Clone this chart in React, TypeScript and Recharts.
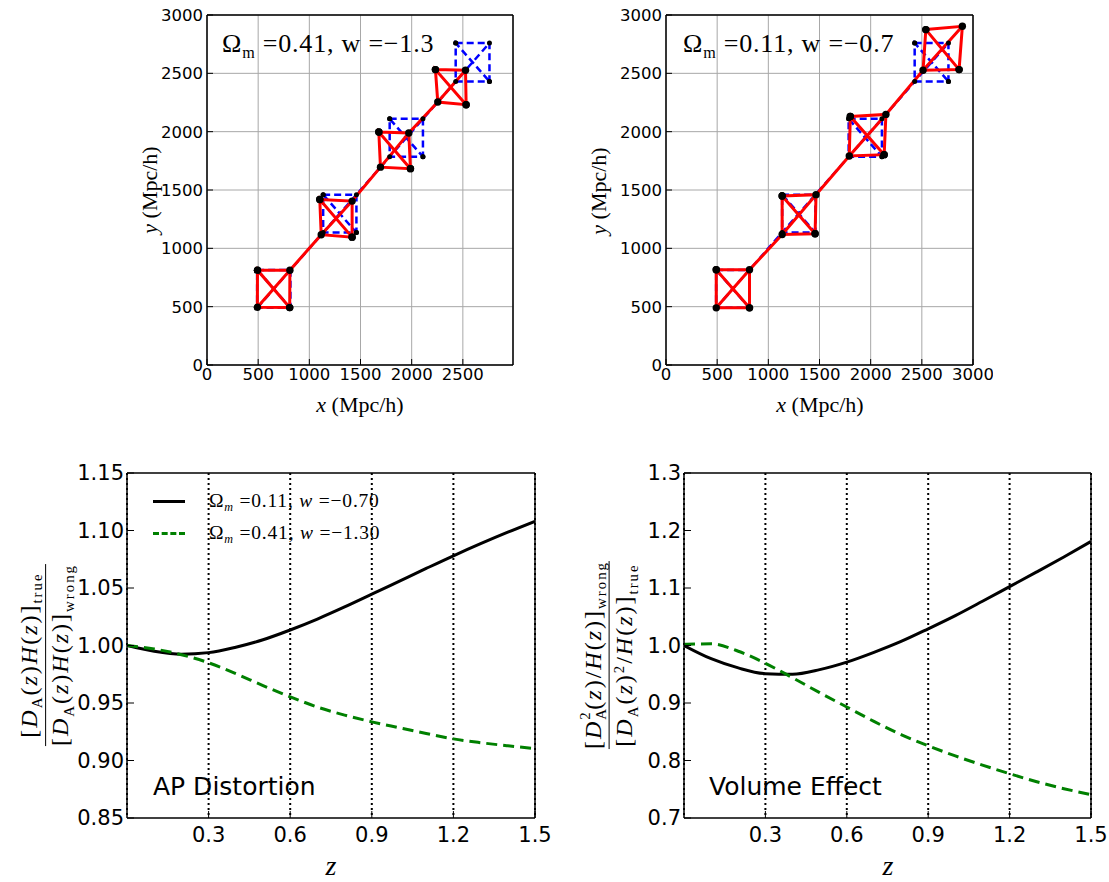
import React from "react";
import { ComposedChart, Line, XAxis, YAxis, CartesianGrid } from "recharts";

const SANS = "'DejaVu Sans', sans-serif";
const SERIF = "'Liberation Serif', 'Times New Roman', serif";

// ---------- top panels: comoving grid, Mpc/h ----------
const xTicksLeft = [0, 500, 1000, 1500, 2000, 2500];
const xTicksRight = [0, 500, 1000, 1500, 2000, 2500, 3000];
const yTicksGrid = [0, 500, 1000, 1500, 2000, 2500, 3000];

// each cell: top-left, top-right, bottom-right, bottom-left
const trueCells = [
  [[490, 815], [815, 815], [815, 490], [490, 490]],
  [[1135, 1460], [1460, 1460], [1460, 1135], [1135, 1135]],
  [[1785, 2110], [2110, 2110], [2110, 1785], [1785, 1785]],
  [[2430, 2760], [2760, 2760], [2760, 2430], [2430, 2430]],
];
const cellsOm041 = [
  [[493, 813], [810, 812], [808, 492], [492, 495]],
  [[1102, 1419], [1418, 1405], [1418, 1096], [1116, 1117]],
  [[1679, 1997], [1972, 1988], [1988, 1683], [1695, 1696]],
  [[2232, 2532], [2526, 2526], [2532, 2231], [2255, 2254]],
];
const cellsOm011 = [
  [[491, 816], [816, 816], [816, 490], [491, 490]],
  [[1135, 1448], [1466, 1460], [1457, 1125], [1135, 1119]],
  [[1801, 2131], [2149, 2148], [2132, 1803], [1791, 1791]],
  [[2539, 2875], [2896, 2903], [2864, 2532], [2512, 2526]],
];

// ---------- bottom panels ----------
const zValues = [0, 0.1, 0.2, 0.3, 0.4, 0.5, 0.6, 0.7, 0.8, 0.9, 1.0, 1.1, 1.2, 1.3, 1.4, 1.5];
const apOm011 = [1.0, 0.995, 0.9925, 0.9938, 0.9985, 1.005, 1.0135, 1.023, 1.0335, 1.0446, 1.0558, 1.067, 1.078, 1.0885, 1.0985, 1.108];
const apOm041 = [1.0, 0.997, 0.992, 0.985, 0.9755, 0.9652, 0.9554, 0.9465, 0.9395, 0.9336, 0.9285, 0.9235, 0.9188, 0.9155, 0.9128, 0.9104];
const volOm011 = [1.0, 0.977, 0.961, 0.951, 0.95, 0.958, 0.971, 0.988, 1.007, 1.029, 1.052, 1.077, 1.1025, 1.128, 1.154, 1.181];
const volOm041 = [1.002, 1.003, 0.99, 0.969, 0.944, 0.918, 0.893, 0.868, 0.845, 0.8255, 0.808, 0.792, 0.777, 0.763, 0.751, 0.7407];
const zTicks = [0.3, 0.6, 0.9, 1.2, 1.5];
const apTicks = [0.85, 0.9, 0.95, 1.0, 1.05, 1.1, 1.15];
const volTicks = [0.7, 0.8, 0.9, 1.0, 1.1, 1.2, 1.3];

const toPts = (arr: number[][]) => arr.map(([x, y]) => ({ x, y }));
const cellPath = (c: number[][]) => toPts([c[0], c[1], c[2], c[3], c[0], c[2]]);
const chainPath = (cells: number[][][]) => toPts(cells.flatMap((c) => [c[3], c[1]]));

const blackDot = (r: number) => (p: any) => (
  <circle key={`d${p.index}`} cx={p.cx} cy={p.cy} r={r} fill="#000" stroke="none" />
);

const frame = { stroke: "#000", strokeWidth: 1.5 };

function Sub({ children }: { children: React.ReactNode }) {
  return <span style={{ fontSize: "0.62em", position: "relative", top: "0.35em" }}>{children}</span>;
}
function Sup({ children }: { children: React.ReactNode }) {
  return <span style={{ fontSize: "0.62em", position: "relative", top: "-0.55em" }}>{children}</span>;
}
function SupSub({ sup, sub }: { sup: string; sub: string }) {
  return (
    <span style={{ position: "relative", display: "inline-block", width: "0.42em", height: "1em" }}>
      <span style={{ position: "absolute", left: 0, top: "0.08em", fontSize: "0.62em", lineHeight: 1 }}>{sup}</span>
      <span style={{ position: "absolute", left: 0, top: "1.13em", fontSize: "0.62em", lineHeight: 1 }}>{sub}</span>
    </span>
  );
}

function GridPanel({ left, xMax, xTicks, cells }: { left: number; xMax: number; xTicks: number[]; cells: number[][][] }) {
  const tickStyle = { fill: "#000", fontSize: 16.5, fontFamily: SANS };
  return (
    <div style={{ position: "absolute", left, top: 0 }}>
      <ComposedChart width={433} height={415} margin={{ top: 0, right: 0, bottom: 0, left: 0 }}>
        <CartesianGrid stroke="#a8a8a8" strokeWidth={1} />
        <XAxis type="number" dataKey="x" domain={[0, xMax]} ticks={xTicks} interval={0} allowDataOverflow height={50}
          tickSize={-6} tickMargin={9} tick={tickStyle} axisLine={frame} tickLine={{ stroke: "#000" }} />
        <XAxis xAxisId="top" orientation="top" type="number" dataKey="x" domain={[0, xMax]} ticks={xTicks} interval={0}
          allowDataOverflow height={15} tickSize={-6} tick={false} axisLine={frame} tickLine={{ stroke: "#000" }} />
        <YAxis type="number" dataKey="y" domain={[0, 3000]} ticks={yTicksGrid} interval={0} allowDataOverflow width={left === 100 ? 107 : 106}
          tickSize={-6} tickMargin={10} tick={tickStyle} axisLine={frame} tickLine={{ stroke: "#000" }} />
        <YAxis yAxisId="right" orientation="right" type="number" dataKey="y" domain={[0, 3000]} ticks={yTicksGrid} interval={0}
          allowDataOverflow width={20} tickSize={-6} tick={false} axisLine={frame} tickLine={{ stroke: "#000" }} />
        <Line data={chainPath(trueCells)} dataKey="y" type="linear" stroke="#0000ff" strokeWidth={2.5} strokeDasharray="7 4"
          dot={false} activeDot={false} isAnimationActive={false} />
        {trueCells.map((c, i) => (
          <Line key={`t${i}`} data={cellPath(c)} dataKey="y" type="linear" stroke="#0000ff" strokeWidth={2.5}
            strokeDasharray="7 4" dot={blackDot(2.5)} activeDot={false} isAnimationActive={false} />
        ))}
        <Line data={chainPath(cells)} dataKey="y" type="linear" stroke="#ff0000" strokeWidth={3}
          dot={false} activeDot={false} isAnimationActive={false} />
        {cells.map((c, i) => (
          <Line key={`c${i}`} data={cellPath(c)} dataKey="y" type="linear" stroke="#ff0000" strokeWidth={3}
            dot={blackDot(3.7)} activeDot={false} isAnimationActive={false} />
        ))}
      </ComposedChart>
    </div>
  );
}

function RatioPanel({ left, yWidth, plotWidth, a, b, domain, ticks, digits }: {
  left: number; yWidth: number; plotWidth: number; a: number[]; b: number[];
  domain: [number, number]; ticks: number[]; digits: number;
}) {
  const rows = zValues.map((z, i) => ({ z, a: a[i], b: b[i] }));
  const tickStyle = { fill: "#000", fontSize: 21, fontFamily: SANS };
  return (
    <div style={{ position: "absolute", left, top: 440 }}>
      <ComposedChart width={yWidth + plotWidth + 10 + 20} height={442} data={rows} margin={{ top: 0, right: 20, bottom: 0, left: 0 }}>
        <CartesianGrid horizontal={false} stroke="#000" strokeWidth={2} strokeDasharray="2 3" />
        <XAxis type="number" dataKey="z" domain={[0, 1.5]} ticks={zTicks} interval={0} allowDataOverflow height={64}
          tickSize={-7} tickMargin={16} tick={tickStyle} axisLine={frame} tickLine={{ stroke: "#000" }} />
        <XAxis xAxisId="top" orientation="top" type="number" dataKey="z" domain={[0, 1.5]} ticks={zTicks} interval={0}
          allowDataOverflow height={33} tickSize={-7} tick={false} axisLine={frame} tickLine={{ stroke: "#000" }} />
        <YAxis type="number" domain={domain} ticks={ticks} interval={0} allowDataOverflow width={yWidth}
          tickSize={-7} tickMargin={10} tick={tickStyle} tickFormatter={(v: number) => v.toFixed(digits)}
          axisLine={frame} tickLine={{ stroke: "#000" }} />
        <YAxis yAxisId="right" orientation="right" type="number" domain={domain} ticks={ticks} interval={0}
          allowDataOverflow width={10} tickSize={-7} tick={false} axisLine={frame} tickLine={{ stroke: "#000" }} />
        <Line dataKey="a" type="monotone" stroke="#000" strokeWidth={3} dot={false} activeDot={false} isAnimationActive={false} />
        <Line dataKey="b" type="monotone" stroke="#008000" strokeWidth={3} strokeDasharray="11 6" dot={false}
          activeDot={false} isAnimationActive={false} />
      </ComposedChart>
    </div>
  );
}

const abs = (left: number, top: number, extra: React.CSSProperties = {}): React.CSSProperties => ({
  position: "absolute", left, top, whiteSpace: "nowrap", lineHeight: 1, ...extra,
});

function Frac({ cx, cy, num, den }: { cx: number; cy: number; num: React.ReactNode; den: React.ReactNode }) {
  return (
    <div style={{
      position: "absolute", left: cx, top: cy, transform: "translate(-50%, -50%) rotate(-90deg)",
      display: "flex", flexDirection: "column", alignItems: "center", fontFamily: SERIF, fontSize: 24,
      letterSpacing: 2, whiteSpace: "nowrap", lineHeight: 1.1,
    }}>
      <div>{num}</div>
      <div style={{ alignSelf: "stretch", borderTop: "1.5px solid #000", margin: "3px 0 1px" }} />
      <div>{den}</div>
    </div>
  );
}

export default function App() {
  return (
    <div style={{ position: "absolute", left: 0, top: 0, width: 1109, height: 882, background: "#fff", overflow: "hidden" }}>
      <GridPanel left={100} xMax={2990} xTicks={xTicksLeft} cells={cellsOm041} />
      <GridPanel left={560} xMax={3000} xTicks={xTicksRight} cells={cellsOm011} />

      <div style={abs(222, 31, { fontFamily: SERIF, fontSize: 26, letterSpacing: 0.8 })}>
        Ω<Sub>m</Sub> =0.41, w =−1.3
      </div>
      <div style={abs(683, 31, { fontFamily: SERIF, fontSize: 26, letterSpacing: 0.8 })}>
        Ω<Sub>m</Sub> =0.11, w =−0.7
      </div>

      <div style={abs(360, 405, { fontFamily: SERIF, fontSize: 22, transform: "translate(-50%, -50%)" })}>
        <i>x</i> (Mpc/h)
      </div>
      <div style={abs(820, 405, { fontFamily: SERIF, fontSize: 22, transform: "translate(-50%, -50%)" })}>
        <i>x</i> (Mpc/h)
      </div>
      <div style={abs(150, 190, { fontFamily: SERIF, fontSize: 22, transform: "translate(-50%, -50%) rotate(-90deg)" })}>
        <i>y</i> (Mpc/h)
      </div>
      <div style={abs(599, 191, { fontFamily: SERIF, fontSize: 22, transform: "translate(-50%, -50%) rotate(-90deg)" })}>
        <i>y</i> (Mpc/h)
      </div>

      <RatioPanel left={0} yWidth={127} plotWidth={408} a={apOm011} b={apOm041} domain={[0.85, 1.15]} ticks={apTicks} digits={2} />
      <RatioPanel left={560} yWidth={124} plotWidth={407} a={volOm011} b={volOm041} domain={[0.7, 1.3]} ticks={volTicks} digits={1} />

      {/* legend */}
      <div style={abs(153, 485, { fontFamily: SERIF, fontSize: 19.5, letterSpacing: 0.8 })}>
        <div style={{ display: "flex", alignItems: "center", height: 32 }}>
          <div style={{ width: 32, borderTop: "3px solid #000", marginRight: 24 }} />
          <span>Ω<Sub><i>m</i></Sub> =0.11, <i>w</i> =−0.70</span>
        </div>
        <div style={{ display: "flex", alignItems: "center", height: 32 }}>
          <div style={{ width: 32, borderTop: "3px dashed #008000", marginRight: 24 }} />
          <span>Ω<Sub><i>m</i></Sub> =0.41, <i>w</i> =−1.30</span>
        </div>
      </div>

      <div style={abs(153, 774, { fontFamily: SANS, fontSize: 25 })}>AP Distortion</div>
      <div style={abs(709, 774, { fontFamily: SANS, fontSize: 25 })}>Volume Effect</div>

      <div style={abs(331, 866, { fontFamily: SERIF, fontSize: 28, transform: "translate(-50%, -50%)" })}><i>z</i></div>
      <div style={abs(888, 866, { fontFamily: SERIF, fontSize: 28, transform: "translate(-50%, -50%)" })}><i>z</i></div>

      <Frac cx={45} cy={655}
        num={<>[<i>D</i><Sub>A</Sub>(<i>z</i>)<i>H</i>(<i>z</i>)]<Sub>true</Sub></>}
        den={<>[<i>D</i><Sub>A</Sub>(<i>z</i>)<i>H</i>(<i>z</i>)]<Sub>wrong</Sub></>} />
      <Frac cx={607} cy={655}
        num={<>[<i>D</i><SupSub sup="2" sub="A" />(<i>z</i>)/<i>H</i>(<i>z</i>)]<Sub>wrong</Sub></>}
        den={<>[<i>D</i><Sub>A</Sub>(<i>z</i>)<Sup>2</Sup>/<i>H</i>(<i>z</i>)]<Sub>true</Sub></>} />
    </div>
  );
}
